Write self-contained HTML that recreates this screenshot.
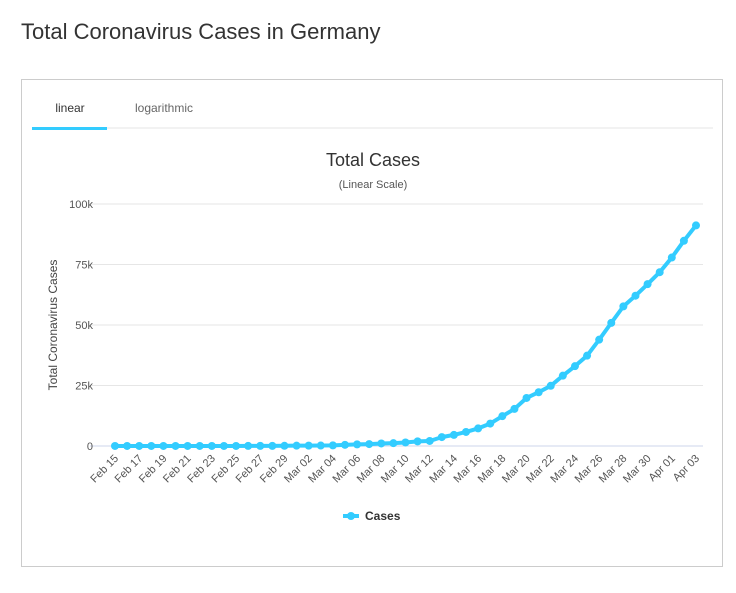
<!DOCTYPE html>
<html><head><meta charset="utf-8"><style>
body{margin:0;background:#fff;font-family:"Liberation Sans",sans-serif;}
.title{position:absolute;left:21px;top:19px;font-size:22px;color:#333;}
.box{position:absolute;left:21px;top:79px;width:702px;height:488px;border:1px solid #ccc;box-sizing:border-box;}
</style></head><body>
<div class="title">Total Coronavirus Cases in Germany</div>
<div class="box"></div>
<svg id="c" width="736" height="593" style="position:absolute;left:0;top:0">
<line x1="32" y1="128" x2="713" y2="128" stroke="#e6e6e6"/>
<rect x="32" y="127" width="75" height="3" fill="#33ccff"/>
<text x="70" y="112" text-anchor="middle" font-size="12" fill="#333">linear</text>
<text x="164" y="112" text-anchor="middle" font-size="12" fill="#666">logarithmic</text>
<text x="373" y="166" text-anchor="middle" font-size="18" fill="#333">Total Cases</text>
<text x="373" y="188" text-anchor="middle" font-size="11" fill="#555">(Linear Scale)</text>
<text transform="translate(57,325) rotate(-90)" text-anchor="middle" font-size="12" fill="#444">Total Coronavirus Cases</text>
<g id="grid"></g><g id="xl"></g><g id="series"></g>
<g>
<line x1="343" y1="516" x2="359" y2="516" stroke="#33ccff" stroke-width="4"/>
<circle cx="351" cy="516" r="4" fill="#33ccff"/>
<text x="365" y="520" font-size="12" font-weight="bold" fill="#333">Cases</text>
</g>
</svg>
<script>
const dates=["Feb 15","Feb 16","Feb 17","Feb 18","Feb 19","Feb 20","Feb 21","Feb 22","Feb 23","Feb 24","Feb 25","Feb 26","Feb 27","Feb 28","Feb 29","Mar 01","Mar 02","Mar 03","Mar 04","Mar 05","Mar 06","Mar 07","Mar 08","Mar 09","Mar 10","Mar 11","Mar 12","Mar 13","Mar 14","Mar 15","Mar 16","Mar 17","Mar 18","Mar 19","Mar 20","Mar 21","Mar 22","Mar 23","Mar 24","Mar 25","Mar 26","Mar 27","Mar 28","Mar 29","Mar 30","Mar 31","Apr 01","Apr 02","Apr 03"];
const cases=[16,16,16,16,16,16,16,16,16,16,17,27,46,48,79,130,159,196,262,482,670,799,1040,1176,1457,1908,2078,3675,4585,5795,7272,9257,12327,15320,19848,22213,24873,29056,32986,37323,43938,50871,57695,62095,66885,71808,77872,84794,91159];
const yTicks=[0,25000,50000,75000,100000];
const yTickLabels=["0","25k","50k","75k","100k"];
const NS="http://www.w3.org/2000/svg";
const x0=115,x1=696,yb=446,yt=204;
const xs=i=>x0+(x1-x0)*i/(dates.length-1);
const ys=v=>yb-(yb-yt)*v/100000;
function mk(t,a,p){const e=document.createElementNS(NS,t);for(const k in a)e.setAttribute(k,a[k]);p.appendChild(e);return e;}
const grid=document.getElementById('grid');
yTicks.forEach((v,i)=>{
 const l=mk('line',{x1:90,x2:703,y1:ys(v),y2:ys(v),stroke:v===0?'#ccd6eb':'#e6e6e6'},grid);
 
 
 const t=mk('text',{x:93,y:ys(v)+4,'text-anchor':'end','font-size':11,fill:'#555'},grid);
 t.textContent=yTickLabels[i];
 
 
});
const xl=document.getElementById('xl');
dates.forEach((d,i)=>{
 if(i%2)return;
 const x=xs(i)+4,y=459;
 const t=mk('text',{x:x,y:y,'text-anchor':'end','font-size':11,fill:'#555',transform:`rotate(-45 ${x} ${y})`},xl);
 t.textContent=d;
 
 
});
const s=document.getElementById('series');
const p=mk('polyline',{points:cases.map((v,i)=>xs(i)+','+ys(v)).join(' '),fill:'none',stroke:'#33ccff','stroke-width':4,'stroke-linejoin':'round'},s);


cases.forEach((v,i)=>{
 const c=mk('circle',{cx:xs(i),cy:ys(v),r:4,fill:'#33ccff'},s);
 
 
});
</script>
</body></html>
